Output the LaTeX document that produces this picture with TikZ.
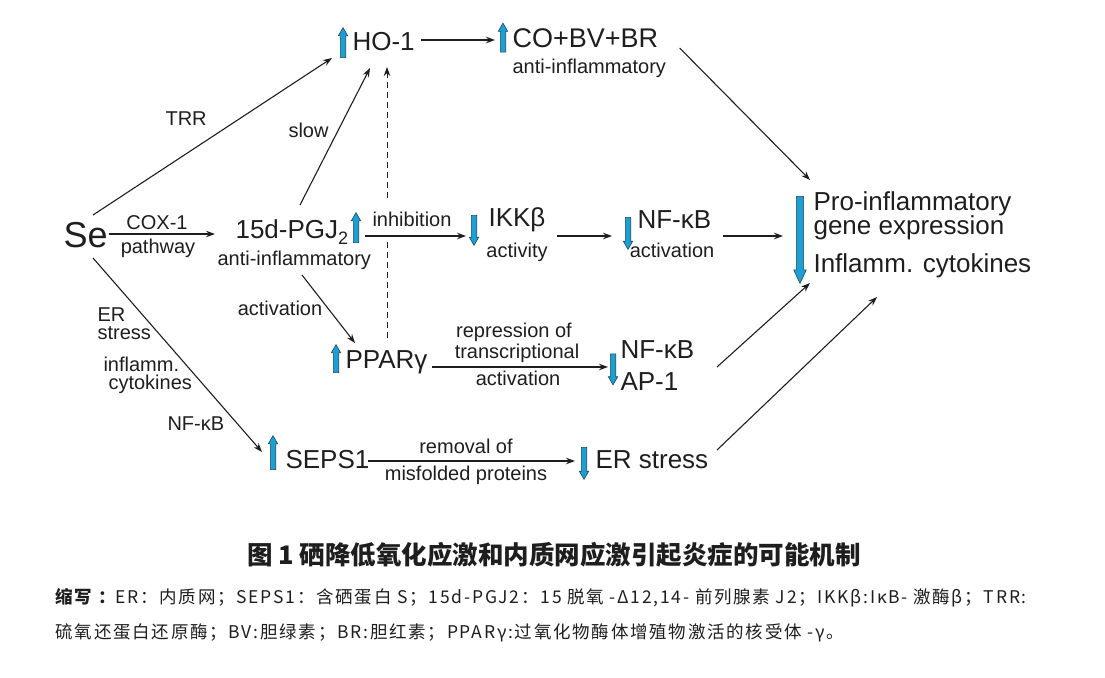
\documentclass[tikz,border=0pt]{standalone}
\usepackage{fontspec}
\setmainfont{Liberation Sans}
\newfontfamily\cjk{Noto Sans CJK SC}
\newfontfamily\cjknote[LetterSpace=10]{Noto Sans CJK SC}
\usetikzlibrary{shapes.arrows,arrows.meta}
\definecolor{arrowfill}{RGB}{28,160,212}
\definecolor{arrowline}{RGB}{30,70,95}
\definecolor{ink}{RGB}{30,30,30}

\begin{document}
\begin{tikzpicture}[x=1pt,y=-1pt,
  line width=1.1pt,draw=ink,text=ink,>={Stealth[length=9pt,width=6.5pt]},
  term/.style={inner sep=0pt,anchor=base west,font=\fontsize{26}{26}\selectfont},
  lbl/.style={inner sep=0pt,anchor=base,font=\fontsize{20}{17}\selectfont},
  bluearr/.style={single arrow,draw=arrowline,fill=arrowfill,line width=0.6pt,
    inner sep=2.4pt,single arrow head extend=2pt,single arrow tip angle=60,
    minimum height=#1},
  uparr/.style={bluearr=#1,rotate=90},
  downarr/.style={bluearr=#1,rotate=-90}]

  \useasboundingbox (0,0) rectangle (1105,677);

  % main terms
  \node[term,font=\fontsize{36}{36}\selectfont] (se) at (63,247) {Se};
  \node[term] (ho) at (352,51) {HO-1};
  \node[term,font=\fontsize{27}{27}\selectfont] (co) at (512,48) {CO+BV+BR};
  \node[lbl,anchor=base west] (coanti) at (512,74) {anti-inflammatory};
  \node[term] (pgj) at (235,238) {15d-PGJ\raisebox{-6pt}{\fontsize{18}{18}\selectfont 2}};
  \node[lbl,anchor=base west] (pgjanti) at (217,265) {anti-inflammatory};
  \node[term] (ikk) at (488,226) {IKKβ};
  \node[lbl] (ikkact) at (517,257) {activity};
  \node[term] (nf) at (637,228) {NF-κB};
  \node[lbl] (nfact) at (672,257) {activation};
  \node[term] (pro) at (813,210) {Pro-inflammatory};
  \node[term] (gene) at (813,234) {gene expression};
  \node[term] (cyto) at (813,272) {Inflamm. cytokines};
  \node[term] (ppar) at (345,368) {PPARγ};
  \node[term] (nfap) at (620,358) {NF-κB};
  \node[term] (ap) at (620,390) {AP-1};
  \node[term] (seps) at (285,468) {SEPS1};
  \node[term] (ers) at (595,468) {ER stress};

  % up / down marks
  \node[uparr=30] (hoar) at (343,45) {};
  \node[uparr=29] (coar) at (503,40) {};
  \node[uparr=30] (pgjar) at (356,230) {};
  \node[downarr=30] (ikkar) at (474,228) {};
  \node[downarr=32] (nfar) at (628,231) {};
  \node[downarr=87,inner sep=3.3pt,single arrow head extend=2.7pt,
    single arrow tip angle=50] (proar) at (800,236) {};
  \node[uparr=28] (pparar) at (336,361) {};
  \node[downarr=31] (nfapar) at (613,367) {};
  \node[uparr=34] (sepsar) at (273,455) {};
  \node[downarr=32] (ersar) at (584,461) {};

  % dashed link, broken by the inhibition label
  \draw[->,line width=1pt,dash pattern=on 6pt off 4pt]
    ([shift={(42,-30)}]ppar.base west) -- ([shift={(35,16)}]ho.base west);

  % edge labels
  \node[lbl,anchor=base west] (trr) at (165,125) {TRR};
  \node[lbl,anchor=base west] (slow) at (288,137) {slow};
  \node[lbl] (cox) at (157,229) {COX-1};
  \node[lbl] (path) at (158,253) {pathway};
  \node[lbl,anchor=base west,fill=white,inner ysep=14pt] (inhib) at (372,226) {inhibition};
  \node[lbl] (act) at (280,315) {activation};
  \node[lbl] (rep) at (514,337) {repression of};
  \node[lbl] (trans) at (517,358) {transcriptional};
  \node[lbl] (repact) at (518,385) {activation};
  \node[lbl] (remov) at (466,453) {removal of};
  \node[lbl] (misf) at (466,480) {misfolded proteins};
  \node[lbl,anchor=base west] (er) at (97,321) {ER};
  \node[lbl,anchor=base west] (stress) at (97,339) {stress};
  \node[lbl,anchor=base west] (infl) at (103,371) {inflamm.};
  \node[lbl,anchor=base west] (cyt) at (108,389) {cytokines};
  \node[lbl,anchor=base west] (nfkb) at (167,430) {NF-κB};

  % connectors
  \draw[->] ([shift={(30,-32)}]se.base west) -- ([shift={(-20,7)}]ho.base west);
  \draw[->] ([shift={(6,-11)}]ho.base east) -- ([shift={(-17,-8)}]co.base west);
  \draw[->] ([shift={(1,-13)}]se.base east) -- ([shift={(-20,-4)}]pgj.base west);
  \draw[->] ([shift={(65,-33)}]pgj.base west) -- ([shift={(18,17)}]ho.base west);
  \draw[->] ([shift={(130,-2)}]pgj.base west) -- ([shift={(-22,10)}]ikk.base west);
  \draw[->] ([shift={(69,10)}]ikk.base west) -- ([shift={(-25,8)}]nf.base west);
  \draw[->] ([shift={(86,8)}]nf.base west) -- ([shift={(-30,26)}]pro.base west);
  \draw[->] ([shift={(21,0)}]co.base east) -- ([shift={(-3,-30)}]pro.base west);
  \draw[->] ([shift={(85,10)}]pgjanti.base west) -- ([shift={(10,-25)}]ppar.base west);
  \draw[->] ([shift={(87,-1)}]ppar.base west) -- ([shift={(-12,9)}]nfap.base west);
  \draw[->] ([shift={(97,9)}]nfap.base west) -- ([shift={(-3,11)}]cyto.base west);
  \draw[->] ([shift={(30,11)}]se.base west) -- ([shift={(-23,-16)}]seps.base west);
  \draw[->] ([shift={(83,-7)}]seps.base west) -- ([shift={(-20,-7)}]ers.base west);
  \draw[->] ([shift={(122,-18)}]ers.base west) -- ([shift={(64,25)}]cyto.base west);

  % caption
  \node[font=\cjk\bfseries\fontsize{25.5}{25.5}\selectfont] (cap) at (554,555)
    {图 1\ 硒降低氧化应激和内质网应激引起炎症的可能机制};
  \node[inner sep=0pt,anchor=west,font=\cjknote\fontsize{17.5}{17.5}\selectfont] (abbr) at (55,598)
    {{\bfseries 缩写 ：}ER：内质网；SEPS1：含硒蛋白 S；15d-PGJ2：15 脱氧 -Δ12,14- 前列腺素 J2；IKKβ:IκB- 激酶β；TRR:};
  \node[inner sep=0pt,anchor=west,font=\cjknote\fontsize{17.5}{17.5}\selectfont] (abbrb) at (55,633)
    {硫氧还蛋白还原酶；BV:胆绿素；BR:胆红素；PPARγ:过氧化物酶体增殖物激活的核受体 -γ。};
\end{tikzpicture}
\end{document}
